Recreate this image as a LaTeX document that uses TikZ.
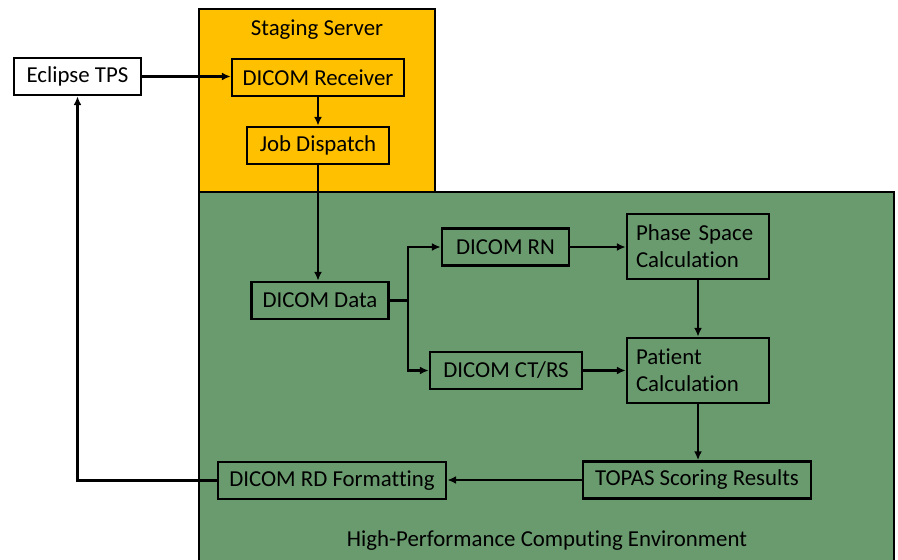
\documentclass[tikz,border=0pt]{standalone}
\usepackage{fontspec}
\setmainfont{Carlito}[Ligatures=NoCommon]
\usetikzlibrary{arrows.meta}
\definecolor{stagingyellow}{HTML}{FFC000}
\definecolor{hpcgreen}{HTML}{6A9B6E}
\begin{document}
\begin{tikzpicture}[x=0.02cm,y=-0.02cm,
    font=\fontsize{13}{15.4}\selectfont,
    box/.style={draw,line width=1.5pt,inner sep=0pt,minimum height=0.74cm},
    twoline/.style={draw,line width=1.5pt,inner xsep=0.18cm,inner ysep=0pt,
        minimum height=1.3cm,text width=2.48cm,align=left},
    link/.style={line width=1.4pt,-{Latex[length=5pt,width=4.5pt]}}]
    \clip (0,0) rectangle (898,560);

    % the two environments
    \draw[fill=hpcgreen,line width=1.5pt] (199,192) rectangle (894,580);
    \draw[fill=stagingyellow,line width=1.5pt] (199,9) rectangle (435,192);
    \node (staging) at (317,30) {Staging Server};
    \node (hpc) at (547,541) {High-Performance Computing Environment};

    \node[box,fill=white,minimum width=2.54cm] (eclipse) at (77.5,76.5) {Eclipse TPS};
    \node[box,minimum width=3.44cm] (receiver) at (318,77.5) {DICOM Receiver};
    \node[box,minimum width=2.84cm] (dispatch) at (318,145.5) {Job Dispatch};

    \node[box,minimum width=2.74cm] (data) at (320,300.5) {DICOM Data};
    \node[box,minimum width=2.54cm] (rn) at (505.5,247) {DICOM RN};
    \node[box,minimum width=3.04cm] (ctrs) at (506,370.5) {DICOM CT/RS};
    \node[twoline] (phase) at (698,246.5) {Phase Space\\Calculation};
    \node[twoline] (patient) at (698,370.5) {Patient\\Calculation};
    \node[box,minimum width=4.56cm] (topas) at (697,480) {TOPAS Scoring Results};
    \node[box,minimum width=4.56cm] (rd) at (332,480.5) {DICOM RD Formatting};

    \draw[link] (eclipse.east) -- (receiver.west |- eclipse.east);
    \draw[link] (receiver) -- (dispatch);
    \draw[link] (dispatch.south) -- (dispatch.south |- data.north);
    \draw[link] (data.east) -- ++(18,0) |- (rn.west);
    \draw[link] (data.east) -- ++(18,0) |- (ctrs.west);
    \draw[link] (rn.east) -- (phase.west |- rn.east);
    \draw[link] (ctrs.east) -- (patient.west |- ctrs.east);
    \draw[link] (phase) -- (patient);
    \draw[link] (patient.south) -- (patient.south |- topas.north);
    \draw[link] (topas.west) -- (rd.east |- topas.west);
    \draw[link] (rd.west) -| (eclipse.south);
\end{tikzpicture}
\end{document}
